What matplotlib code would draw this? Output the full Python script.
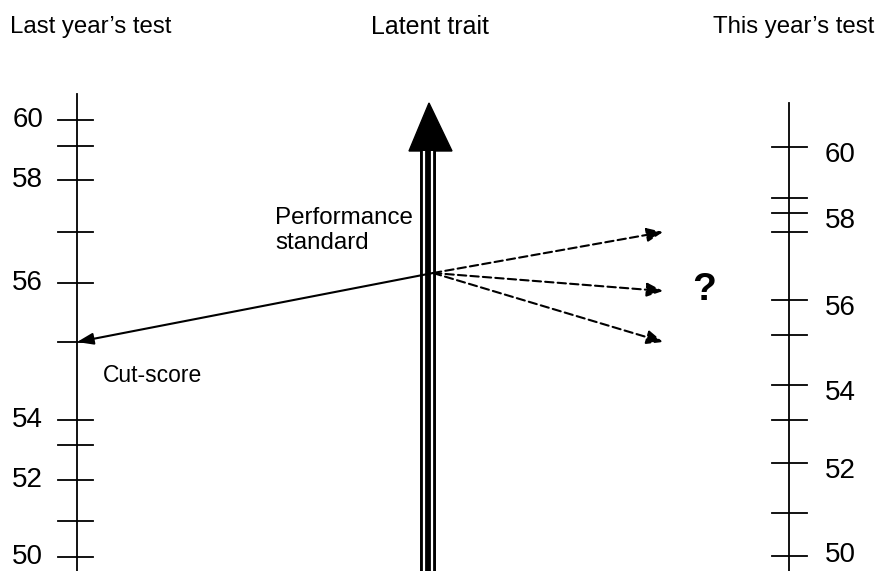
"""Equating diagram: last year's and this year's raw-score scales on a latent trait."""

import matplotlib

matplotlib.use("Agg")
import matplotlib.pyplot as plt
from matplotlib.patches import Polygon

plt.rcParams["font.family"] = ["Liberation Sans", "DejaVu Sans"]

# raw scores on both tests and where each sits on the latent trait
scores = [60, 59, 58, 57, 56, 55, 54, 53, 52, 51, 50]
last_year_pos = [4.51, 4.25, 3.91, 3.39, 2.88, 2.29, 1.51, 1.26, 0.91, 0.50, 0.14]
this_year_pos = [4.24, 3.73, 3.58, 3.39, 2.71, 2.36, 1.86, 1.51, 1.08, 0.58, 0.15]
labelled_scores = [60, 58, 56, 54, 52, 50]

cut_score = 55
standard_pos = 2.98                    # performance standard on the latent trait
candidate_pos = [3.39, 2.80, 2.29]     # possible cut locations on this year's test

# layout (x in pixels, y in latent units)
W, H = 877, 571
LEFT_X, RIGHT_X, TRAIT_X = 77, 789, 428
TOP_Y = 5.71

fig = plt.figure(figsize=(W / 100, H / 100), dpi=100)
ax = fig.add_axes([0, 0, 1, 1])
ax.set_xlim(0, W)
ax.set_ylim(0, TOP_Y)
ax.axis("off")


def ypix(p):
    return TOP_Y - p / 100


# left scale
ax.plot([LEFT_X, LEFT_X], [0, ypix(94)], color="black", lw=1.3)
for s, p in zip(scores, last_year_pos):
    ax.plot([LEFT_X - 19, LEFT_X + 16], [p, p], color="black", lw=1.3)
    if s in labelled_scores:
        ax.text(43, p, str(s), ha="right", va="center", fontsize=20)

# right scale (labels sit a little below their ticks, except at the bottom edge)
ax.plot([RIGHT_X, RIGHT_X], [0, ypix(103)], color="black", lw=1.3)
for s, p in zip(scores, this_year_pos):
    ax.plot([RIGHT_X - 17, RIGHT_X + 18], [p, p], color="black", lw=1.3)
    if s in labelled_scores:
        dy = 0.08 if p > 0.3 else -0.01
        ax.text(825, p - dy, str(s), ha="left", va="center", fontsize=20)

# latent trait arrow: triple shaft plus head
shaft_top = ypix(151)
ax.plot([TRAIT_X, TRAIT_X], [0, shaft_top], color="black", lw=11.5,
        solid_capstyle="butt")
for dx in (-3.6, 4.4):
    ax.plot([TRAIT_X + dx, TRAIT_X + dx], [0, shaft_top], color="white",
            lw=1.6, solid_capstyle="butt")
ax.add_patch(Polygon([[409, shaft_top], [452, shaft_top], [429, ypix(103)]],
                     closed=True, color="black"))

# cut-score mapped back from the standard
cut_pos = last_year_pos[scores.index(cut_score)]
ax.annotate("", xy=(LEFT_X, cut_pos), xytext=(433, standard_pos),
            arrowprops=dict(arrowstyle="-|>,head_length=0.7,head_width=0.25",
                            mutation_scale=14, lw=1.5, color="black",
                            shrinkA=0, shrinkB=0))

# candidate mappings onto this year's test
for p in candidate_pos:
    ax.annotate("", xy=(663, p), xytext=(433, standard_pos),
                arrowprops=dict(arrowstyle="-|>,head_length=0.7,head_width=0.3",
                                mutation_scale=14, lw=1.5, color="black",
                                linestyle=(0, (4, 2)), shrinkA=0, shrinkB=0))

# text
ax.text(10, ypix(27), "Last year\u2019s test", ha="left", va="center", fontsize=17.3)
ax.text(TRAIT_X + 2, ypix(27), "Latent trait", ha="center", va="center", fontsize=18)
ax.text(713, ypix(27), "This year\u2019s test", ha="left", va="center", fontsize=17.3)
ax.text(275, ypix(218), "Performance", ha="left", va="center", fontsize=17.4)
ax.text(275, ypix(243), "standard", ha="left", va="center", fontsize=17.4)
ax.text(103, ypix(375), "Cut-score", ha="left", va="center", fontsize=16.5)
ax.text(704, ypix(290), "?", ha="center", va="center", fontsize=28,
        fontweight="bold")

fig.savefig("out.png", dpi=100)
plt.close(fig)
